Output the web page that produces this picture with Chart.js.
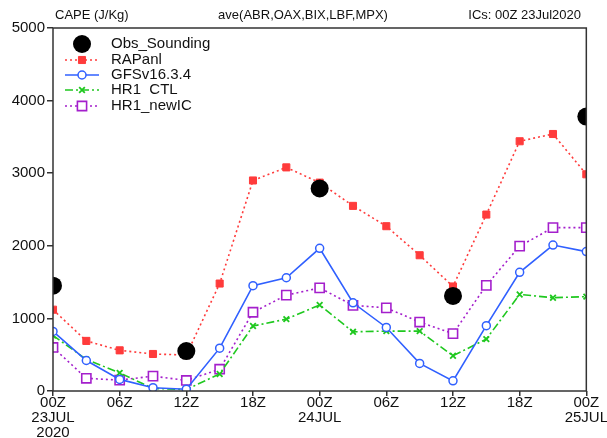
<!DOCTYPE html>
<html>
<head>
<meta charset="utf-8">
<script src="https://cdn.jsdelivr.net/npm/chart.js@4"></script>
<style>
  body { margin: 0; background: #fff; }
  canvas { display: block; }
</style>
</head>
<body>
<canvas id="cape" width="607" height="438"></canvas>
<script>
// forecast hours from 00Z 23Jul2020, every 3h
const hours = [0, 3, 6, 9, 12, 15, 18, 21, 24, 27, 30, 33, 36, 39, 42, 45, 48];

const rapanl = [1120, 690, 560, 510, 495, 1480, 2900, 3080, 2870, 2550, 2270, 1870, 1440, 2430, 3440, 3540, 2985];
const gfs    = [820, 420, 160, 45, 25, 590, 1450, 1560, 1965, 1215, 875, 380, 140, 900, 1635, 2010, 1920];
const hr1ctl = [765, 435, 250, 35, 20, 235, 895, 990, 1185, 815, 825, 825, 485, 715, 1330, 1285, 1300];
const hr1new = [600, 175, 150, 205, 145, 300, 1085, 1320, 1420, 1180, 1145, 950, 790, 1455, 1995, 2250, 2250];

// soundings only at 00Z / 12Z
const obsHours = [0, 12, 24, 36, 48];
const obsCape  = [1450, 550, 2790, 1310, 3780];

// x tick labels (every 6h)
const xTickHours = [0, 6, 12, 18, 24, 30, 36, 42, 48];
const xTickLabels = [
  ['00Z', '23JUL', '2020'], ['06Z'], ['12Z'], ['18Z'],
  ['00Z', '24JUL'], ['06Z'], ['12Z'], ['18Z'],
  ['00Z', '25JUL']
];
const yTicks = [0, 1000, 2000, 3000, 4000, 5000];

const titleLeft = 'CAPE (J/Kg)';
const titleMid = 'ave(ABR,OAX,BIX,LBF,MPX)';
const titleRight = 'ICs: 00Z 23Jul2020';

const legendNames = ['Obs_Sounding', 'RAPanl', 'GFSv16.3.4', 'HR1  CTL', 'HR1_newIC'];

function pts(xs, ys) {
  return xs.map((h, i) => ({ x: h, y: ys[i] }));
}

const FONT = '"Liberation Sans", Arial, sans-serif';

// titulo + moldura + legenda
const extras = {
  id: 'extras',
  afterDraw(chart) {
    const ctx = chart.ctx;
    const a = chart.chartArea;
    ctx.save();
    ctx.strokeStyle = '#333';
    ctx.lineWidth = 1.5;
    ctx.strokeRect(a.left, a.top, a.right - a.left, a.bottom - a.top);

    ctx.fillStyle = '#111';
    ctx.font = '13px ' + FONT;
    ctx.textBaseline = 'middle';
    ctx.textAlign = 'left';
    ctx.fillText(titleLeft, 55, 15);
    ctx.textAlign = 'center';
    ctx.fillText(titleMid, 303, 15);
    ctx.textAlign = 'right';
    ctx.fillText(titleRight, 581, 15);

    // legenda
    const rowY = [44, 60, 75, 90, 106];
    chart.data.datasets.forEach((ds, i) => {
      const y = rowY[i];
      if (ds.showLine !== false) {
        ctx.save();
        ctx.strokeStyle = ds.borderColor;
        ctx.lineWidth = ds.borderWidth;
        ctx.setLineDash(ds.borderDash || []);
        ctx.beginPath();
        ctx.moveTo(65, y);
        ctx.lineTo(99, y);
        ctx.stroke();
        ctx.restore();
      }
      ctx.save();
      ctx.fillStyle = ds.pointBackgroundColor;
      ctx.strokeStyle = ds.pointBorderColor;
      ctx.lineWidth = ds.pointBorderWidth || 0;
      ctx.setLineDash([]);
      Chart.helpers.drawPoint(ctx, {
        pointStyle: ds.pointStyle,
        radius: ds.pointRadius,
        borderWidth: ds.pointBorderWidth
      }, 82, y);
      ctx.restore();
      ctx.fillStyle = '#111';
      ctx.font = '15px ' + FONT;
      ctx.textAlign = 'left';
      ctx.textBaseline = 'middle';
      ctx.fillText(legendNames[i], 111, y);
    });
    ctx.restore();
  }
};

const ctx = document.getElementById('cape').getContext('2d');
new Chart(ctx, {
  type: 'line',
  data: {
    datasets: [
      {
        label: legendNames[0],
        data: pts(obsHours, obsCape),
        showLine: false,
        pointStyle: 'circle',
        pointRadius: 9,
        pointBorderWidth: 0,
        pointBackgroundColor: '#000',
        pointBorderColor: '#000',
        borderColor: '#000',
        borderWidth: 0
      },
      {
        label: legendNames[1],
        data: pts(hours, rapanl),
        borderColor: '#ff3b3b',
        borderWidth: 1.6,
        borderDash: [2, 3],
        pointStyle: 'rect',
        pointRadius: 5,
        pointBorderWidth: 1,
        pointBackgroundColor: '#ff3b3b',
        pointBorderColor: '#ff3b3b'
      },
      {
        label: legendNames[2],
        data: pts(hours, gfs),
        borderColor: '#3060ff',
        borderWidth: 1.6,
        pointStyle: 'circle',
        pointRadius: 4,
        pointBorderWidth: 1.5,
        pointBackgroundColor: '#fff',
        pointBorderColor: '#3060ff'
      },
      {
        label: legendNames[3],
        data: pts(hours, hr1ctl),
        borderColor: '#1fc81f',
        borderWidth: 1.6,
        borderDash: [8, 3, 2, 3],
        pointStyle: 'crossRot',
        pointRadius: 4,
        pointBorderWidth: 1.8,
        pointBackgroundColor: '#1fc81f',
        pointBorderColor: '#1fc81f'
      },
      {
        label: legendNames[4],
        data: pts(hours, hr1new),
        borderColor: '#a41fcc',
        borderWidth: 1.6,
        borderDash: [2, 3],
        pointStyle: 'rect',
        pointRadius: 6.5,
        pointBorderWidth: 1.6,
        pointBackgroundColor: '#fff',
        pointBorderColor: '#a41fcc'
      }
    ]
  },
  options: {
    responsive: false,
    animation: false,
    layout: { padding: { left: 0, top: 28, right: 20, bottom: 0 } },
    plugins: {
      legend: { display: false },
      title: { display: false },
      tooltip: { enabled: false }
    },
    scales: {
      x: {
        type: 'linear',
        min: 0,
        max: 48,
        afterBuildTicks: (scale) => {
          scale.ticks = xTickHours.map(v => ({ value: v }));
        },
        afterFit: (scale) => { scale.height = 47; },
        ticks: {
          autoSkip: false,
          maxRotation: 0,
          padding: -1,
          color: '#111',
          font: { family: FONT, size: 15, lineHeight: 1.0 },
          callback: (v) => {
            const i = xTickHours.indexOf(v);
            return i >= 0 ? xTickLabels[i] : '';
          }
        },
        grid: { drawOnChartArea: false, drawTicks: true, tickLength: 5, color: '#333', lineWidth: 1.5 },
        border: { display: false }
      },
      y: {
        min: 0,
        max: 5000,
        afterBuildTicks: (scale) => {
          scale.ticks = yTicks.map(v => ({ value: v }));
        },
        afterFit: (scale) => { scale.width = 53; },
        ticks: {
          padding: 2,
          color: '#111',
          font: { family: FONT, size: 15 },
          callback: (v) => String(v)
        },
        grid: { drawOnChartArea: false, drawTicks: true, tickLength: 6, color: '#333', lineWidth: 1.5 },
        border: { display: false }
      }
    }
  },
  plugins: [extras]
});
</script>
</body>
</html>
